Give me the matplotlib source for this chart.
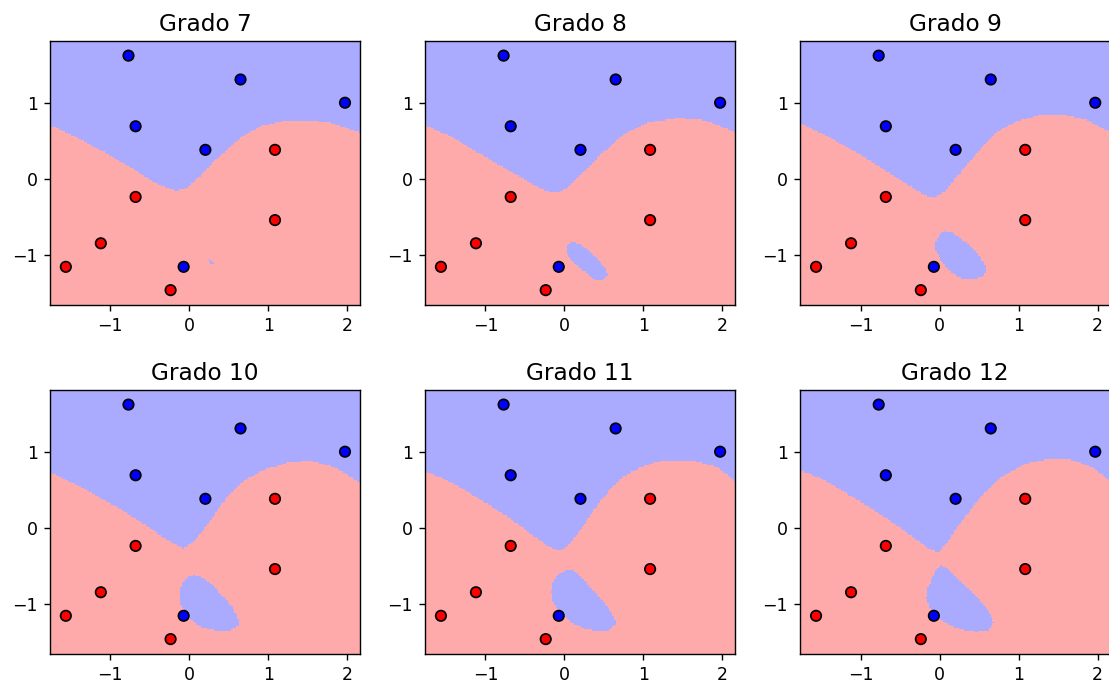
import numpy as np
import matplotlib
matplotlib.use("Agg")
import matplotlib.pyplot as plt
from matplotlib.colors import ListedColormap
from matplotlib.path import Path

# training points
pts_x = [-0.77, 0.648, 1.97, -0.68, 0.203, -0.072,
         1.084, -0.68, 1.084, -1.12, -1.563, -0.237]
pts_y = [1.63, 1.316, 1.01, 0.70, 0.39, -1.15,
         0.39, -0.23, -0.535, -0.84, -1.15, -1.457]
labels = [1, 1, 1, 1, 1, 1, 0, 0, 0, 0, 0, 0]

degrees = [7, 8, 9, 10, 11, 12]

# upper decision boundary (blue above, red below)
bound_x = {
    7: [-1.77, -1.555, -1.13, -0.70, -0.50, -0.28, -0.16, -0.03, 0.14, 0.31, 0.48, 0.65, 0.90, 1.20, 1.50, 1.79, 2.18],
    8: [-1.767, -1.41, -0.98, -0.69, -0.43, -0.22, -0.09, 0.03, 0.25, 0.50, 0.75, 1.05, 1.43, 1.73, 1.98, 2.16],
    9: [-1.746, -1.458, -1.034, -0.61, -0.31, -0.144, -0.06, 0.068, 0.28, 0.53, 0.746, 1.0, 1.30, 1.55, 1.85, 2.17],
    10: [-1.767, -1.343, -0.92, -0.623, -0.369, -0.20, -0.072, 0.055, 0.225, 0.48, 0.733, 0.987, 1.284, 1.538, 1.835, 2.18],
    11: [-1.767, -1.407, -0.983, -0.686, -0.432, -0.22, -0.072, 0.034, 0.203, 0.458, 0.71, 0.966, 1.22, 1.60, 1.94, 2.16],
    12: [-1.746, -1.458, -1.034, -0.61, -0.314, -0.144, -0.017, 0.089, 0.28, 0.534, 0.788, 1.085, 1.38, 1.636, 1.93, 2.17],
}
bound_y = {
    7: [0.715, 0.614, 0.395, 0.13, 0.0, -0.11, -0.145, -0.11, 0.044, 0.24, 0.395, 0.55, 0.70, 0.77, 0.78, 0.745, 0.614],
    8: [0.715, 0.55, 0.285, 0.11, -0.044, -0.154, -0.175, -0.11, 0.11, 0.37, 0.59, 0.745, 0.81, 0.79, 0.70, 0.614],
    9: [0.73, 0.59, 0.35, 0.066, -0.13, -0.22, -0.24, -0.154, 0.11, 0.417, 0.636, 0.776, 0.855, 0.855, 0.79, 0.614],
    10: [0.737, 0.526, 0.285, 0.088, -0.088, -0.197, -0.263, -0.175, 0.044, 0.417, 0.658, 0.79, 0.877, 0.89, 0.81, 0.59],
    11: [0.759, 0.592, 0.33, 0.13, -0.066, -0.22, -0.294, -0.24, -0.022, 0.373, 0.658, 0.81, 0.89, 0.90, 0.81, 0.614],
    12: [0.759, 0.636, 0.373, 0.088, -0.13, -0.263, -0.316, -0.197, 0.088, 0.44, 0.68, 0.855, 0.912, 0.912, 0.81, 0.614],
}

# outline of the blue island near the bottom
blob_x = {
    7: [0.23, 0.27, 0.31, 0.29, 0.25],
    8: [0.097, 0.182, 0.288, 0.415, 0.513, 0.542, 0.50, 0.415, 0.352, 0.246, 0.119, 0.042, 0.025, 0.042],
    9: [0.067, 0.152, 0.258, 0.385, 0.49, 0.575, 0.588, 0.555, 0.428, 0.322, 0.216, 0.11, 0.025, -0.038, -0.06, -0.038, 0.004],
    10: [0.055, 0.14, 0.267, 0.394, 0.521, 0.614, 0.627, 0.521, 0.352, 0.14, -0.03, -0.114, -0.123, -0.093, -0.03],
    11: [0.034, 0.119, 0.246, 0.415, 0.542, 0.627, 0.648, 0.564, 0.415, 0.246, 0.076, -0.072, -0.157, -0.165, -0.136, -0.072],
    12: [0.025, 0.089, 0.216, 0.343, 0.47, 0.576, 0.66, 0.682, 0.618, 0.47, 0.301, 0.131, -0.038, -0.123, -0.165, -0.144, -0.08, -0.03],
}
blob_y = {
    7: [-1.04, -1.05, -1.10, -1.12, -1.08],
    8: [-0.82, -0.846, -0.921, -1.04, -1.162, -1.25, -1.316, -1.329, -1.303, -1.206, -1.096, -1.009, -0.921, -0.855],
    9: [-0.671, -0.69, -0.768, -0.878, -0.987, -1.118, -1.207, -1.272, -1.316, -1.316, -1.272, -1.184, -1.075, -0.966, -0.878, -0.79, -0.716],
    10: [-0.614, -0.627, -0.724, -0.855, -1.009, -1.162, -1.272, -1.338, -1.346, -1.294, -1.162, -0.987, -0.855, -0.724, -0.645],
    11: [-0.539, -0.548, -0.68, -0.877, -1.031, -1.162, -1.25, -1.338, -1.351, -1.316, -1.228, -1.096, -0.943, -0.811, -0.68, -0.592],
    12: [-0.492, -0.526, -0.637, -0.768, -0.9, -1.03, -1.163, -1.25, -1.338, -1.36, -1.338, -1.272, -1.163, -1.053, -0.921, -0.768, -0.614, -0.526],
}

cmap_light = ListedColormap(['#FFAAAA', '#AAAAFF'])
cmap_bold = ListedColormap(['#FF0000', '#0000FF'])

h = .02
x_min, x_max = min(pts_x) - .2, max(pts_x) + .2
y_min, y_max = min(pts_y) - .2, max(pts_y) + .2
xx, yy = np.meshgrid(np.arange(x_min, x_max, h),
                     np.arange(y_min, y_max, h))

fig, axes = plt.subplots(2, 3, figsize=(1109 / 125., 691 / 125.), dpi=125)
plt.subplots_adjust(left=0.0451, right=1.0009, top=0.9407, bottom=0.0531,
                    wspace=0.211, hspace=0.32)

for ax, d in zip(axes.ravel(), degrees):
    upper = yy > np.interp(xx, bound_x[d], bound_y[d])
    island = Path(np.column_stack([blob_x[d], blob_y[d]])).contains_points(
        np.column_stack([xx.ravel(), yy.ravel()])).reshape(xx.shape)
    Z = (upper | island).astype(int)
    ax.pcolormesh(xx, yy, Z, cmap=cmap_light, shading='auto')
    ax.scatter(pts_x, pts_y, c=labels, cmap=cmap_bold, edgecolor='k', s=36)
    ax.set_xlim(xx.min(), xx.max())
    ax.set_ylim(yy.min(), yy.max())
    ax.set_xticks([-1, 0, 1, 2])
    ax.set_yticks([-1, 0, 1])
    ax.set_title("Grado %d" % d, fontsize=13.4)

plt.savefig("out.png", dpi=125)
